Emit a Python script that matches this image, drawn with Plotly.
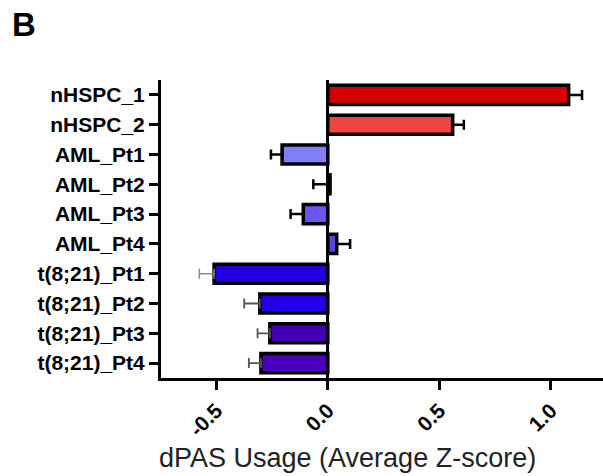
import plotly.graph_objects as go

# Samples, top to bottom
samples = ["nHSPC_1", "nHSPC_2", "AML_Pt1", "AML_Pt2", "AML_Pt3", "AML_Pt4",
           "t(8;21)_Pt1", "t(8;21)_Pt2", "t(8;21)_Pt3", "t(8;21)_Pt4"]
# Average Z-score of dPAS usage and its error (SEM)
zscore = [1.08, 0.56, -0.205, 0.01, -0.11, 0.04, -0.51, -0.305, -0.26, -0.30]
sem = [0.06, 0.05, 0.05, 0.075, 0.057, 0.06, 0.066, 0.07, 0.055, 0.054]
bar_colors = ["#D60000", "#EE4444", "#8080FF", "#7060F0", "#6A55F0", "#5A44E0",
              "#2200DD", "#2200E6", "#4400B4", "#4800BE"]
err_colors = ["#000000"] * 6 + ["#8A8A8A", "#555555", "#555555", "#555555"]
err_widths = [2.5] * 6 + [1.5, 1.8, 1.8, 1.8]
# AML_Pt2 error is drawn towards negative values
err_dir = ["+", "+", "-", "-", "-", "+", "-", "-", "-", "-"]
x_ticks = [-0.5, 0.0, 0.5, 1.0]

fig = go.Figure()
fig.add_trace(go.Bar(
    x=zscore, y=samples, orientation="h", width=0.64,
    marker=dict(color=bar_colors, line=dict(color="black", width=3.5)),
    showlegend=False, hoverinfo="skip",
))

for name, v, e, c, w, d in zip(samples, zscore, sem, err_colors, err_widths, err_dir):
    fig.add_trace(go.Scatter(
        x=[v], y=[name], mode="markers",
        marker=dict(size=1, color="rgba(0,0,0,0)"),
        error_x=dict(type="data", symmetric=False,
                     array=[e if d == "+" else 0],
                     arrayminus=[e if d == "-" else 0],
                     color=c, thickness=w, width=5),
        showlegend=False, hoverinfo="skip",
    ))

fig.update_layout(
    width=603, height=476,
    margin=dict(l=161, r=0, t=80, b=98),
    plot_bgcolor="white", paper_bgcolor="white",
    font=dict(family="Liberation Sans, Arial, sans-serif", color="black"),
    xaxis=dict(
        range=[-0.748, 1.234], tickvals=x_ticks,
        ticktext=[f"{t:.1f}" for t in x_ticks],
        tickangle=-45, tickfont=dict(size=21, family="Liberation Sans, Arial", weight="bold"),
        ticks="outside", ticklen=9, tickwidth=3, tickcolor="black",
        showline=True, linewidth=3, linecolor="black",
        showgrid=False, zeroline=True, zerolinewidth=3, zerolinecolor="black",
    ),
    yaxis=dict(
        range=[9.5, -0.5], categoryorder="array", categoryarray=samples,
        tickfont=dict(size=21, family="Liberation Sans, Arial", weight="bold"),
        ticks="outside", ticklen=9, tickwidth=3, tickcolor="black",
        showline=True, linewidth=3, linecolor="black", showgrid=False,
    ),
    annotations=[
        dict(text="dPAS Usage (Average Z-score)", xref="paper", yref="paper",
             x=0.421, y=-0.268, xanchor="center", yanchor="middle",
             showarrow=False, font=dict(size=27, color="#222222")),
        dict(text="<b>B</b>", xref="paper", yref="paper",
             x=-0.309, y=1.185, xanchor="center", yanchor="middle",
             showarrow=False, font=dict(size=33, color="black")),
    ],
)

fig.write_html("out.html")
